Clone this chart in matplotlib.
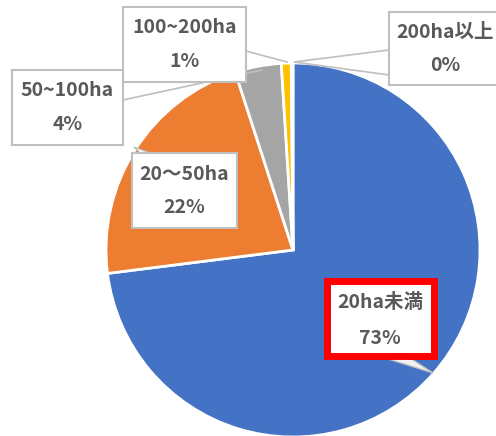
import matplotlib
matplotlib.use("Agg")
import matplotlib.pyplot as plt
from matplotlib.patches import Rectangle, Polygon

plt.rcParams['font.family'] = ['Noto Sans CJK JP', 'DejaVu Sans']

# data
categories = ["20ha未満", "20～50ha", "50~100ha", "100~200ha", "200ha以上"]
shares = [73.0, 22.0, 4.0, 0.85, 0.15]
pct_labels = ["73%", "22%", "4%", "1%", "0%"]
colors = ["#4472C4", "#ED7D31", "#A5A5A5", "#FFC000", "#5B9BD5"]

W, H = 496, 436
fig = plt.figure(figsize=(W / 100, H / 100), dpi=100)
ax = fig.add_axes([0, 0, 1, 1])

def Y(y):
    return H - y

ax.pie(shares, colors=colors, startangle=90, counterclock=False,
       center=(293, Y(250)), radius=187, frame=True,
       wedgeprops=dict(edgecolor="white", linewidth=2))
ax.set_xlim(0, W)
ax.set_ylim(0, H)
ax.set_aspect("equal")
ax.axis("off")

line_col = "#BFBFBF"
txt_col = "#595959"
fs = 14

# callout pointers (drawn under the boxes)
ax.plot([123, 262], [Y(100), Y(70)], color=line_col, lw=1.2, zorder=3)
ax.plot([246, 287], [Y(51), Y(62)], color=line_col, lw=1.2, zorder=3)
ax.add_patch(Polygon([(389, Y(50)), (294, Y(62)), (389, Y(75))], closed=True,
                     facecolor="white", edgecolor=line_col, lw=1.2, zorder=3))
ax.add_patch(Polygon([(150, Y(153)), (134, Y(147)), (140, Y(153))], closed=True,
                     facecolor="white", edgecolor=line_col, lw=1.0, zorder=3))
ax.add_patch(Polygon([(385, Y(358)), (433, Y(373)), (410, Y(358))], closed=True,
                     facecolor="#F2F2F2", edgecolor=line_col, lw=1.0, zorder=3))

# label boxes: (x0, y0, x1, y1) in pixels, index of category
boxes = [
    (123, 7, 246, 82, 3),
    (12, 70, 123, 145, 2),
    (389, 12, 500, 85, 4),
    (132, 153, 237, 228, 1),
]
for x0, y0, x1, y1, i in boxes:
    ax.add_patch(Rectangle((x0, Y(y1)), x1 - x0, y1 - y0, facecolor="white",
                           edgecolor=line_col, lw=1.5, zorder=4, clip_on=False))
    cx = (x0 + x1) / 2 if i != 4 else 445
    ax.text(cx, Y(y0 + (y1 - y0) * 0.28), categories[i], ha="center", va="center",
            fontsize=fs, fontweight="bold", color=txt_col, zorder=5)
    ax.text(cx, Y(y0 + (y1 - y0) * 0.73), pct_labels[i], ha="center", va="center",
            fontsize=fs, fontweight="bold", color=txt_col, zorder=5)

# highlighted label for the largest share
ax.add_patch(Rectangle((327, Y(356)), 107, 75, facecolor="white",
                       edgecolor="#FF0000", lw=5, zorder=4))
ax.text(380, Y(303), categories[0], ha="center", va="center",
        fontsize=fs, fontweight="bold", color=txt_col, zorder=5)
ax.text(380, Y(338), pct_labels[0], ha="center", va="center",
        fontsize=fs, fontweight="bold", color=txt_col, zorder=5)

fig.savefig("out.png", dpi=100)
